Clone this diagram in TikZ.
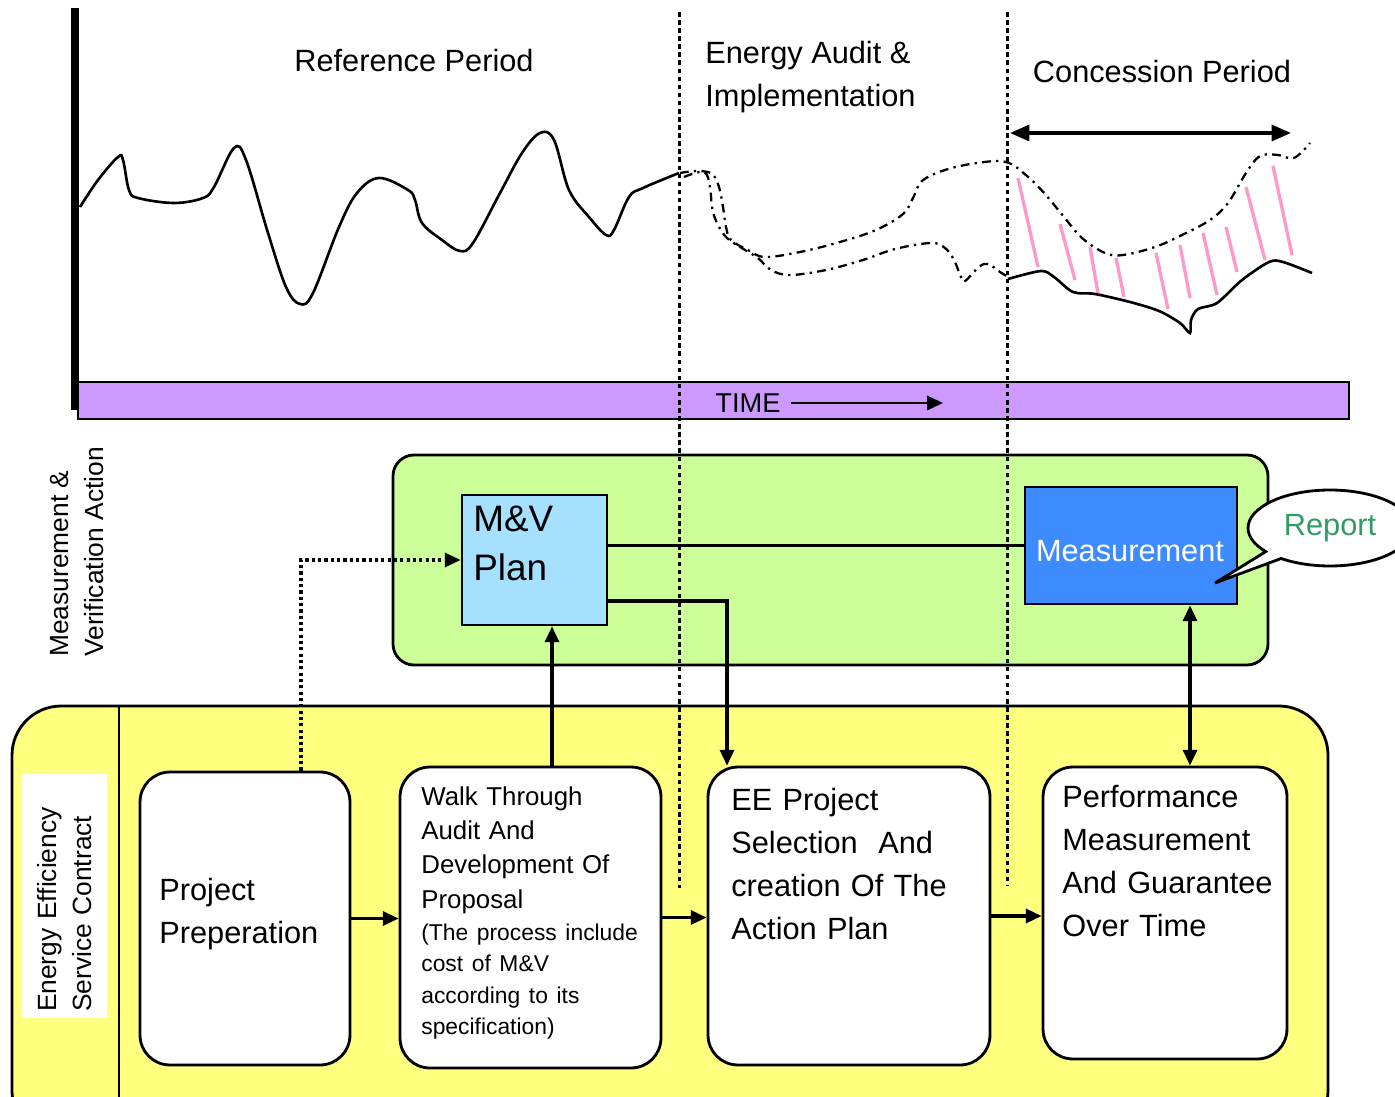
\documentclass[tikz,border=0pt]{standalone}
\usepackage{fontspec}
\setmainfont{Liberation Sans}
\usetikzlibrary{arrows.meta,shapes.callouts}
\definecolor{timepurple}{RGB}{204,153,255}
\definecolor{mvgreen}{RGB}{204,255,153}
\definecolor{eescyellow}{RGB}{255,255,128}
\definecolor{planblue}{RGB}{166,224,255}
\definecolor{measblue}{RGB}{61,139,255}
\definecolor{savepink}{RGB}{255,153,204}
\definecolor{reportgreen}{RGB}{51,153,102}
\newcommand\phasefont{\fontsize{17.5}{24.5}\selectfont}
\newcommand\sidefont{\fontsize{15}{20}\selectfont}
\tikzset{
 stagebox/.style={draw,line width=1.6pt,fill=white,rounded corners=17pt,inner sep=0pt},
 stagetext/.style={anchor=north west,inner sep=0pt,align=left,text width=#1,font=\phasefont},
 flow/.style={line width=1.8pt,-{Triangle[length=9pt,width=8pt]}},
 twoway/.style={line width=1.8pt,{Triangle[length=9pt,width=8pt]}-{Triangle[length=9pt,width=8pt]}},
 hint/.style={line width=1.8pt,dash pattern=on 1.8pt off 1.8pt,-{Triangle[length=9pt,width=8pt]}},
 phaseline/.style={line width=1.7pt,dash pattern=on 2.6pt off 2pt},
 metered/.style={line width=1.5pt},
 forecast/.style={line width=1.3pt,dash pattern=on 5pt off 3pt on 1.3pt off 3pt},
 saving/.style={savepink,line width=1.9pt}
}
\begin{document}
\begin{tikzpicture}[x=0.02cm,y=-0.02cm]
\useasboundingbox(0,0)rectangle(1395,1097);
\draw[line width=4.5pt](75,8)--(75,410);
\draw[line width=1.6pt,fill=timepurple](78,382)rectangle(1349,419);
\node[font=\fontsize{15.5}{18}\selectfont,inner sep=0pt](time)at(748,403){TIME};
\coordinate(timeend)at(943,403);
\draw[flow,line width=1.6pt]([xshift=0.2cm]time.east)--(timeend);
\node[font=\phasefont,inner sep=0pt](refp)at(414,61){Reference Period};
\node[anchor=north west,inner sep=0pt,align=left,font=\phasefont](auditp)at(705,41){Energy Audit \&\\Implementation};
\node[font=\phasefont,inner sep=0pt](concp)at(1162,72){Concession Period};
\coordinate(concstart)at(1010,133);
\coordinate(concend)at(1291,133);
\draw[line width=2.1pt,{Triangle[length=11pt,width=9pt]}-{Triangle[length=11pt,width=9pt]}](concstart)--(concend);
\draw[saving](1018,178)--(1038,267);
\draw[saving](1060,224)--(1075,280);
\draw[saving](1090,247)--(1098,293);
\draw[saving](1116,258)--(1124,297);
\draw[saving](1156,253)--(1168,309);
\draw[saving](1180,245)--(1190,298);
\draw[saving](1203,233)--(1217,295);
\draw[saving](1226,227)--(1237,272);
\draw[saving](1246,187)--(1265,260);
\draw[saving](1273,166)--(1292,255);
\draw[metered]plot[smooth,tension=.6]coordinates{(80,207)(98,180)(118,157)(123,160)(129,190)(138,198)(174,203)(203,198)(214,187)(234,148)(246,160)(268,233)(286,287)(300,304)(313,293)(339,227)(357,193)(379,178)(408,190)(415,200)(422,223)(442,240)(460,251)(473,243)(500,193)(522,153)(540,133)(554,140)(569,190)(589,217)(606,235)(614,230)(629,197)(643,188)(679,173)};
\draw[forecast]plot[smooth,tension=.6]coordinates{(680,173)(698,171)(712,174)(719,187)(723,207)(726,227)(731,240)(748,250)(765,257)(800,252)(840,242)(876,230)(903,214)(913,198)(922,181)(945,170)(977,163)(1006,162)(1027,176)(1045,194)(1064,217)(1082,238)(1105,253)(1123,255)(1155,247)(1182,235)(1210,220)(1228,203)(1246,173)(1260,156)(1278,155)(1294,158)(1310,143)};
\draw[forecast]plot[smooth,tension=.6]coordinates{(684,177)(704,172)(710,187)(712,207)(717,223)(727,238)(745,250)(758,258)(771,270)(790,275)(826,270)(863,260)(895,249)(931,243)(945,248)(954,260)(961,277)(965,281)(979,267)(988,264)(1000,272)(1008,277)};
\draw[metered]plot[smooth,tension=.5]coordinates{(1008,279)(1041,271)(1054,277)(1073,292)(1095,294)(1130,302)(1159,311)(1180,323)(1190,333)(1191,320)(1198,309)(1217,303)(1242,280)(1269,262)(1283,262)(1312,273)};
\node[rotate=90,anchor=north west,inner sep=0pt,align=left,font=\sidefont](mvlabel)at(50,657){Measurement \&\\Verification Action};
\draw[line width=1.6pt,fill=mvgreen,rounded corners=12pt](393,455)rectangle(1268,665);
\draw[line width=1.6pt,fill=eescyellow,rounded corners=28pt](12,706)rectangle(1328,1140);
\draw[line width=1.6pt](119,706)--(119,1097);
\node[rotate=90,fill=white,inner xsep=0.12cm,minimum width=4.88cm,minimum height=1.7cm,text width=4.64cm,align=left,font=\sidefont](eesclabel)at(64.5,896){Energy Efficiency\\Service Contract};
\node[draw,line width=1.6pt,fill=planblue,minimum width=2.9cm,minimum height=2.6cm,inner sep=0pt](mv)at(534.5,560){};
\node[anchor=north west,inner sep=0pt,align=left,font=\fontsize{21}{27.8}\selectfont](mvtext)at(473,506){M\&V\\Plan};
\node[draw,line width=1.6pt,fill=measblue,minimum width=4.24cm,minimum height=2.34cm,inner sep=0pt](meas)at(1131,545.5){};
\node[text=white,inner sep=0pt,font=\phasefont](meastext)at(1130,551){Measurement};
\node[stagebox,minimum width=4.2cm,minimum height=5.86cm](prep)at(245,918.5){};
\node[stagebox,minimum width=5.22cm,minimum height=6.02cm](walk)at(530.5,917.5){};
\node[stagebox,minimum width=5.64cm,minimum height=5.96cm](ee)at(849,916){};
\node[stagebox,minimum width=4.88cm,minimum height=5.84cm](perf)at(1165,913){};
\node[stagetext=3.8cm](preptext)at(159,878){Project\\Preperation};
\node[stagetext=4.8cm,font=\fontsize{14.7}{19.6}\selectfont](walktext)at(421,786){Walk Through\\Audit And\\Development Of\\Proposal\par{\fontsize{13}{18}\selectfont(The process include\\cost of M\&V\\according to its\\specification)\par}};
\node[stagetext=5.2cm](eetext)at(731,788){EE Project\\Selection\ \ And\\creation Of The\\Action Plan};
\node[stagetext=4.5cm](perftext)at(1062,785){Performance\\Measurement\\And Guarantee\\Over Time};
\draw[flow](prep.east)--(prep.east-|walk.west);
\draw[flow](walk.east)--(walk.east-|ee.west);
\draw[flow](ee.east)--(ee.east-|perf.west);
\draw[flow](walk.north-|552,0)--(mv.south-|552,0);
\draw[flow](mv.east|-0,601)-|(ee.north-|727,0);
\draw[line width=1.8pt](mv.east|-meas.west)--(meas.west);
\draw[twoway](meas.south-|1190,0)--(perf.north-|1190,0);
\draw[hint](prep.north-|301,0)|-(mv.west);
\draw[phaseline](679,12)--(679,888);
\draw[phaseline](1007,12)--(1007,885);
\node[ellipse callout,draw,line width=1.6pt,fill=white,minimum width=3.28cm,minimum height=1.52cm,inner sep=0pt,callout absolute pointer={(1215,583)},text=reportgreen,font=\phasefont](report)at(1330,528){Report};
\end{tikzpicture}
\end{document}
